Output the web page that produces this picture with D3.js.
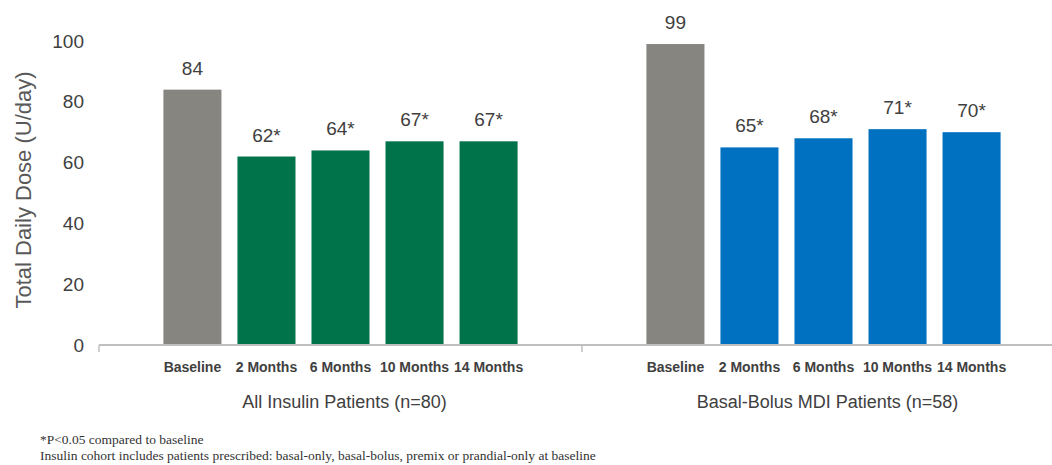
<!DOCTYPE html>
<meta charset="utf-8">
<style>
  body { margin: 0; background: #fff; }
</style>
<script src="https://d3js.org/d3.v7.min.js"></script>
<div id="my_dataviz"></div>
<script>
// data
var groups = ["All Insulin Patients (n=80)", "Basal-Bolus MDI Patients (n=58)"];
var periods = ["Baseline", "2 Months", "6 Months", "10 Months", "14 Months"];
var allInsulin = [84, 62, 64, 67, 67];
var basalBolus = [99, 65, 68, 71, 70];
var starred = [false, true, true, true, true];
var yTicks = [0, 20, 40, 60, 80, 100];
var footnotes = ["*P<0.05 compared to baseline",
  "Insulin cohort includes patients prescribed: basal-only, basal-bolus, premix or prandial-only at baseline"];

var width = 1052, height = 465;

var svg = d3.select("#my_dataviz")
  .append("svg")
    .attr("width", width)
    .attr("height", height)
    .style("font-family", "Liberation Sans, Arial, sans-serif");

// scales
var y = d3.scaleLinear().domain([0, 100]).range([345, 41]);
var x0 = d3.scaleBand().domain(groups).range([99, 1065]).padding(0);
var x1 = d3.scaleBand().domain(periods).range([0, x0.bandwidth()])
  .paddingInner(0.216).paddingOuter(0.87);

var barColors = [["#878580", "#00734a"], ["#878580", "#0070c0"]];

// y tick labels (no axis line in the original)
svg.selectAll(".ytick")
  .data(yTicks)
  .enter().append("text")
    .attr("x", 84)
    .attr("y", function(d) { return y(d); })
    .attr("dy", "0.35em")
    .attr("text-anchor", "end")
    .attr("fill", "#404040")
    .style("font-size", "19px")
    .text(function(d) { return d; });

// y axis title
svg.append("text")
  .attr("transform", "translate(31," + 190 + ") rotate(-90)")
  .attr("text-anchor", "middle")
  .attr("fill", "#595959")
  .style("font-size", "22px")
  .text("Total Daily Dose (U/day)");

var tableData = [allInsulin, basalBolus];

var g = svg.selectAll(".grp")
  .data(groups)
  .enter().append("g")
    .attr("transform", function(d) { return "translate(" + x0(d) + ",0)"; });

g.each(function(grp, gi) {
  var rows = periods.map(function(p, i) {
    return { period: p, value: tableData[gi][i], star: starred[i], i: i };
  });
  var sel = d3.select(this);

  sel.selectAll("rect")
    .data(rows)
    .enter().append("rect")
      .attr("x", function(d) { return x1(d.period); })
      .attr("y", function(d) { return y(d.value); })
      .attr("width", x1.bandwidth())
      .attr("height", function(d) { return y(0) - y(d.value); })
      .attr("fill", function(d) { return d.i == 0 ? barColors[gi][0] : barColors[gi][1]; });

  sel.selectAll(".val")
    .data(rows)
    .enter().append("text")
      .attr("x", function(d) { return x1(d.period) + x1.bandwidth() / 2; })
      .attr("y", function(d) { return y(d.value) - 15; })
      .attr("text-anchor", "middle")
      .attr("fill", "#404040")
      .style("font-size", "19px")
      .text(function(d) { return d.value + (d.star ? "*" : ""); });

  sel.selectAll(".cat")
    .data(rows)
    .enter().append("text")
      .attr("x", function(d) { return x1(d.period) + x1.bandwidth() / 2; })
      .attr("y", 372)
      .attr("text-anchor", "middle")
      .attr("fill", "#404040")
      .style("font-size", "14px")
      .style("font-weight", "bold")
      .text(function(d) { return d.period; });

  sel.append("text")
    .attr("x", x0.bandwidth() / 2 + 4)
    .attr("y", 408)
    .attr("text-anchor", "middle")
    .attr("fill", "#404040")
    .style("font-size", "18px")
    .text(grp);
});

// baseline axis line with group separators
svg.append("line")
  .attr("x1", x0.range()[0]).attr("x2", x0.range()[1])
  .attr("y1", y(0)).attr("y2", y(0))
  .attr("stroke", "#bfbfbf")
  .attr("stroke-width", 2);

svg.selectAll(".sep")
  .data(groups)
  .enter().append("line")
    .attr("x1", function(d) { return x0(d); })
    .attr("x2", function(d) { return x0(d); })
    .attr("y1", y(0)).attr("y2", y(0) + 7)
    .attr("stroke", "#bfbfbf")
    .attr("stroke-width", 1.5);

// footnotes
svg.selectAll(".foot")
  .data(footnotes)
  .enter().append("text")
    .attr("x", 40)
    .attr("y", function(d, i) { return 444 + i * 16; })
    .attr("fill", "#333")
    .style("font-family", "Liberation Serif, Times New Roman, serif")
    .style("font-size", "13.5px")
    .text(function(d) { return d; });
</script>
